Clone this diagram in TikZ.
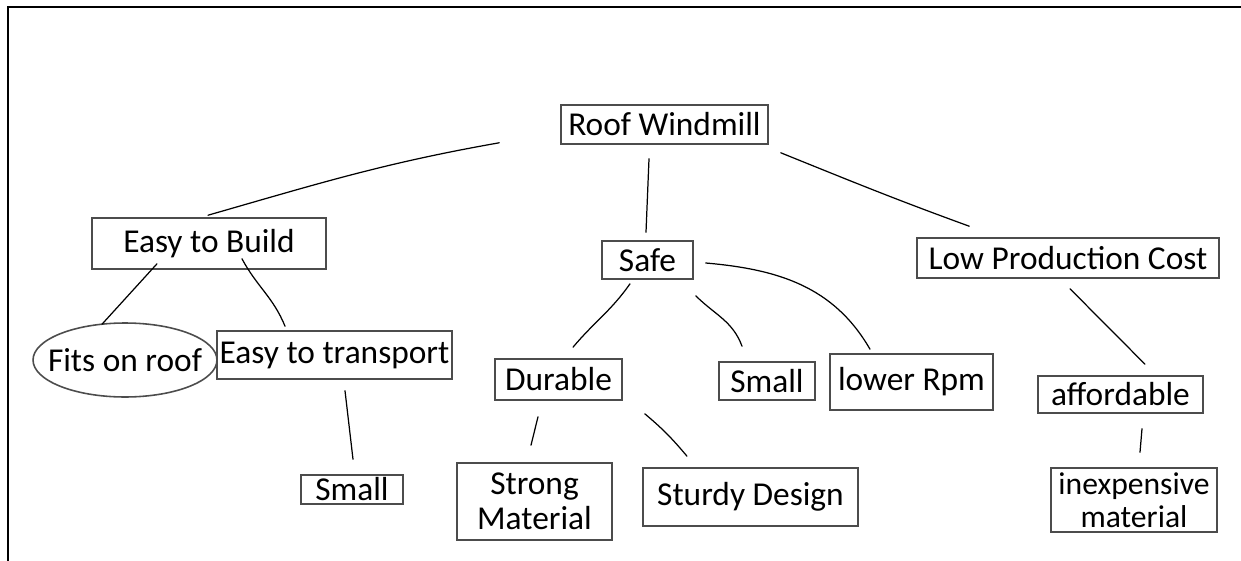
\documentclass[tikz,border=0pt]{standalone}
\usepackage{fontspec}
\setmainfont{Carlito}
\usetikzlibrary{shapes.geometric,calc}
\tikzset{
box/.style={draw=black!70, line width=0.9pt, inner sep=0pt, align=center,
  font=\fontsize{19}{20}\selectfont},
oval/.style={box, ellipse},
link/.style={line width=0.7pt, line cap=round},
frame/.style={line width=1.3pt}
}

\begin{document}
\begin{tikzpicture}[x=0.02cm, y=-0.02cm]
\useasboundingbox (0,0) rectangle (1241,561);
\draw[frame] (8,561) -- (8,7) -- (1241,7);

\node[box, minimum width=4.14cm, minimum height=0.78cm] (roof) at (664.5,124.5) {Roof Windmill};
\node[box, minimum width=4.68cm, minimum height=1.02cm] (build) at (209,243.5) {Easy to Build};
\node[box, minimum width=1.82cm, minimum height=0.76cm] (safe) at (647.5,260) {Safe};
\node[box, minimum width=6.04cm, minimum height=0.80cm] (cost) at (1068,258) {Low Production Cost};
\node[oval, minimum width=3.68cm, minimum height=1.48cm] (fits) at (125,360) {\makebox[0pt]{Fits on roof}};
\node[box, minimum width=4.70cm, minimum height=0.96cm] (transport) at (334.5,355) {Easy to transport};
\node[box, minimum width=2.04cm, minimum height=0.58cm] (smallA) at (352,489.5) {Small};
\node[box, minimum width=2.54cm, minimum height=0.82cm] (durable) at (558.5,379.5) {Durable};
\node[box, minimum width=1.92cm, minimum height=0.76cm] (smallB) at (767,381) {Small};
\node[box, minimum width=3.26cm, minimum height=1.12cm] (rpm) at (911.5,382) {lower Rpm};
\node[box, minimum width=3.10cm, minimum height=1.54cm] (strong) at (534.5,501.5) {Strong\\Material};
\node[box, minimum width=4.30cm, minimum height=1.16cm] (sturdy) at (750.5,497) {Sturdy Design};
\node[box, minimum width=3.30cm, minimum height=0.74cm] (afford) at (1120.5,394.5) {affordable};
\node[box, minimum width=3.32cm, minimum height=1.28cm, font=\fontsize{18}{19}\selectfont] (cheap) at (1134,500) {inexpensive\\material};

\draw[link] ($(roof.south west)+(-61,-2)$) to[out=190, in=16] ($(build.north)+(-1,-2)$);
\draw[link] ($(roof.south)+(-15.5,14)$) -- ($(safe.north)+(-1.5,-8)$);
\draw[link] ($(roof.south east)+(12,8)$) to[out=-22, in=160] ($(cost.north west)+(53,-11)$);

\draw[link] ($(build.south)+(-52,-6)$) -- ($(fits.north)+(-23,2)$);
\draw[link] ($(build.south)+(33,-11)$) to[out=-62, in=112] ($(transport.north)+(-49.5,-4)$);
\draw[link] ($(transport.south)+(10.5,11)$) -- ($(smallA.north)+(1,-15)$);

\draw[link] ($(safe.south)+(-17.5,4)$) to[out=-125, in=50] ($(durable.north)+(14.5,-11)$);
\draw[link] ($(safe.south east)+(2,16)$) to[out=-45, in=110] ($(smallB.north)+(-25,-15)$);
\draw[link] ($(safe.east)+(12,3)$) to[out=-5, in=120] ($(rpm.north)+(-41.5,-4)$);

\draw[link] ($(durable.south)+(-20.5,16)$) -- ($(strong.north)+(-3.5,-17)$);
\draw[link] ($(durable.south east)+(22,13)$) to[out=-40, in=130] ($(sturdy.north)+(-63.5,-11)$);

\draw[link] ($(cost.south)+(2,10)$) -- ($(afford.north)+(24.5,-11)$);
\draw[link] ($(afford.south)+(21.5,15)$) -- ($(cheap.north)+(6,-15)$);
\end{tikzpicture}
\end{document}
